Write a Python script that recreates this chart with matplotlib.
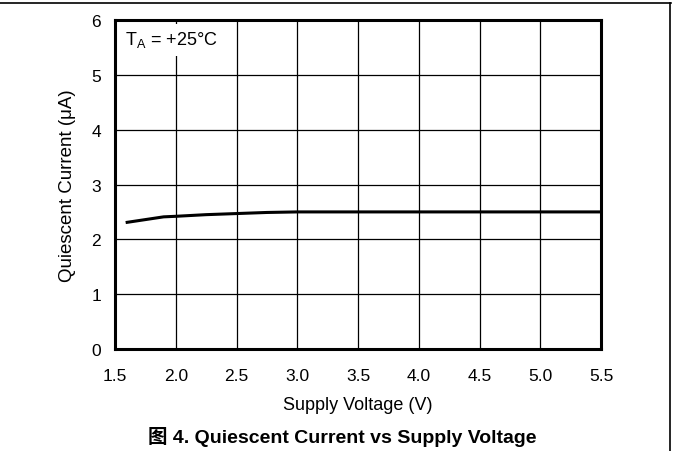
import matplotlib.pyplot as plt
from matplotlib.lines import Line2D
from matplotlib.patches import Rectangle

plt.rcParams['font.family'] = ['Liberation Sans', 'Noto Sans CJK SC', 'DejaVu Sans']

# supply voltage (V) and quiescent current (uA)
voltage = [1.6, 1.75, 1.9, 2.0, 2.25, 2.5, 2.75, 3.0, 3.5, 4.0, 4.5, 5.0, 5.5]
current = [2.31, 2.36, 2.41, 2.42, 2.45, 2.47, 2.49, 2.5, 2.5, 2.5, 2.5, 2.5, 2.5]

x_ticks = [1.5, 2.0, 2.5, 3.0, 3.5, 4.0, 4.5, 5.0, 5.5]
y_ticks = [0, 1, 2, 3, 4, 5, 6]

fig = plt.figure(figsize=(6.73, 4.52), dpi=100)
ax = fig.add_axes([0.1709, 0.2257, 0.7222, 0.7278])

ax.plot(voltage, current, color='black', linewidth=2.2, zorder=3)

ax.set_xlim(1.5, 5.5)
ax.set_ylim(0, 6)
ax.set_xticks(x_ticks)
ax.set_xticklabels([f'{v:.1f}' for v in x_ticks])
ax.set_yticks(y_ticks)
ax.tick_params(length=0, labelsize=12.5)
ax.tick_params(axis='x', pad=14)
ax.tick_params(axis='y', pad=10)
ax.grid(True, color='black', linewidth=0.9)
ax.set_axisbelow(True)
for s in ax.spines.values():
    s.set_linewidth(2.2)
    s.set_zorder(4)

ax.set_xlabel('Supply Voltage (V)', fontsize=13, labelpad=9)
ax.set_ylabel('Quiescent Current (μA)', fontsize=13.5, labelpad=11)

# white box behind the temperature note
ax.add_patch(Rectangle((1.52, 5.34), 0.52, 0.59, facecolor='white', edgecolor='none', zorder=2))
ax.text(1.58, 5.65, r'T$_\mathregular{A}$ = +25°C', fontsize=13, va='center', ha='left', zorder=3)

fig.text(0.508, 0.033, '图 4. Quiescent Current vs Supply Voltage', fontsize=14,
         fontweight='bold', ha='center', va='center')

# page frame lines
fig.add_artist(Line2D([0, 0.997], [0.991, 0.991], color='black', linewidth=1.2))
fig.add_artist(Line2D([0.9955, 0.9955], [0, 0.991], color='black', linewidth=1.2))

fig.savefig('out.png', dpi=100)
